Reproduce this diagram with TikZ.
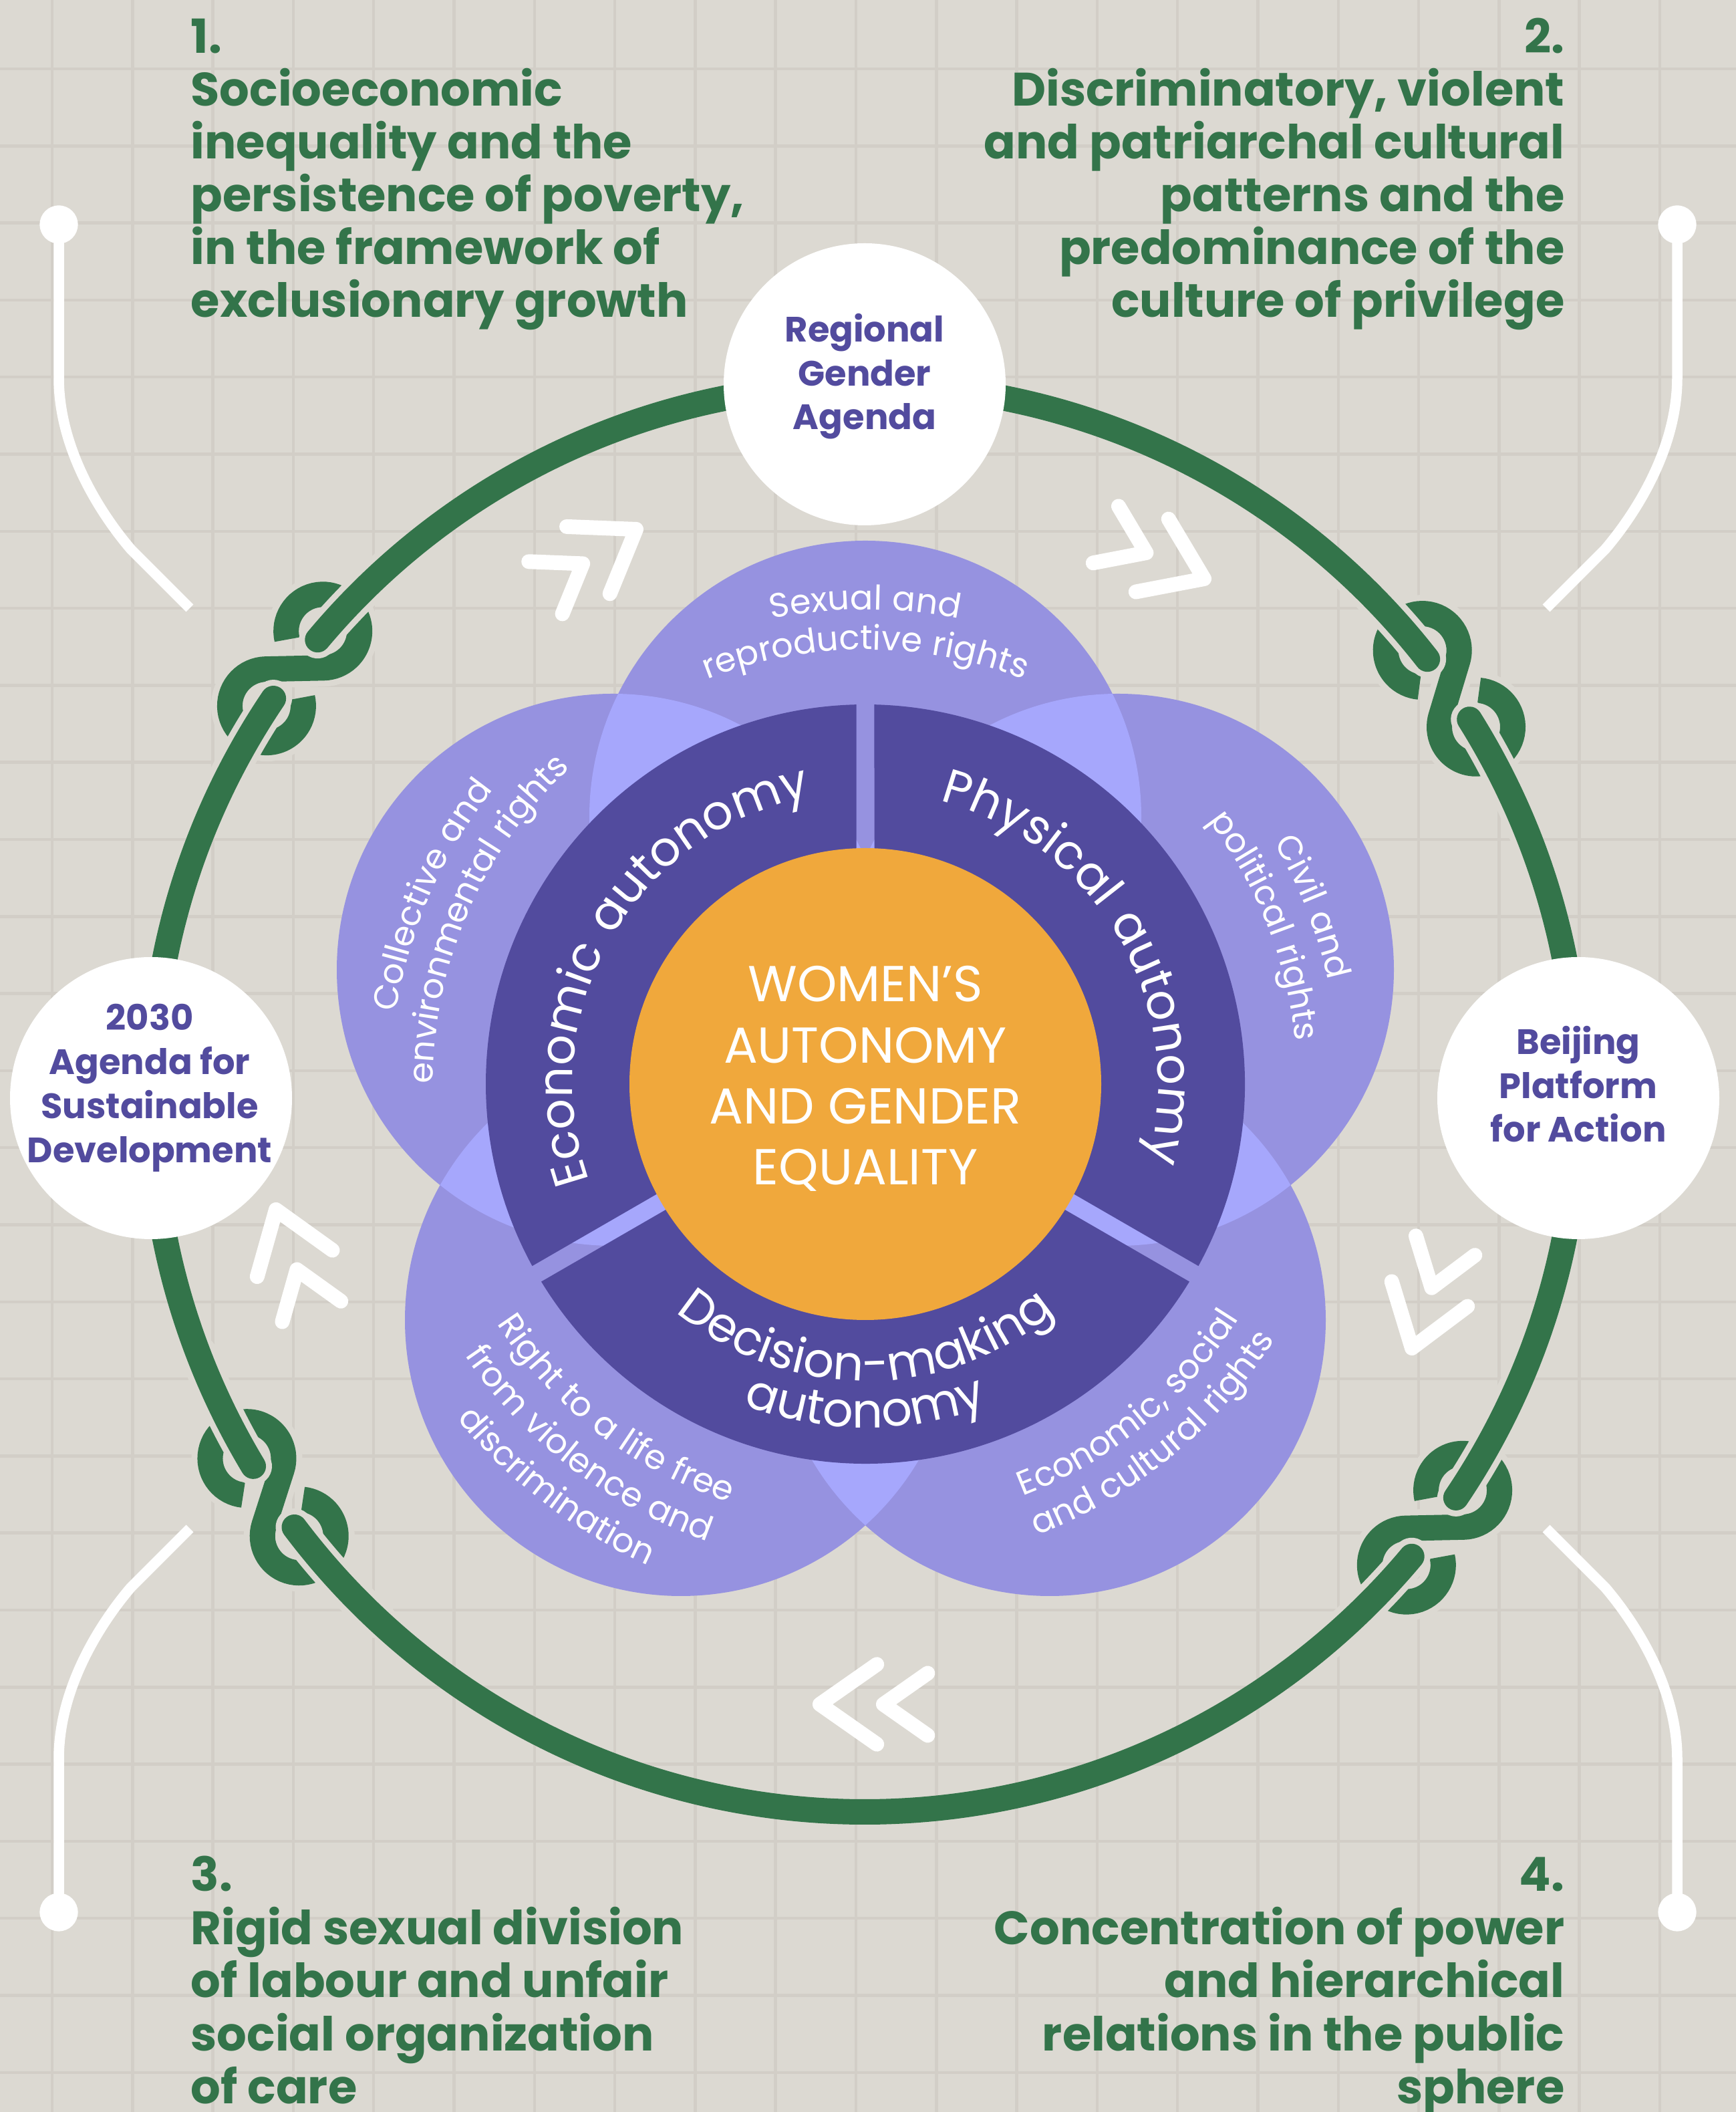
\documentclass[tikz,border=0pt]{standalone}
\usepackage{fontspec}
\setmainfont{Poppins}
\newfontfamily\ringfam{Poppins}[LetterSpace=7]
\newfontfamily\petalfam{Poppins}[LetterSpace=3]
\usetikzlibrary{decorations.text}

\definecolor{bggray}{HTML}{DCD9D2}
\definecolor{gridgray}{HTML}{D2CEC7}
\definecolor{ringgreen}{HTML}{33744A}
\definecolor{petalblue}{HTML}{9692E0}
\definecolor{petallight}{HTML}{A6A7FC}
\definecolor{autopurple}{HTML}{524B9E}
\definecolor{coreorange}{HTML}{F0A83C}

\newcommand\ringtxt{\ringfam\fontsize{20.5}{24}\selectfont\color{white}}
\newcommand\petaltxt{\petalfam\fontsize{14.5}{17}\selectfont\color{white}}

\tikzset{
  gridline/.style={draw=gridgray, line width=0.045cm},
  bracket/.style={draw=white, line width=0.155cm},
  ringline/.style={draw=ringgreen, line width=0.38cm, line cap=round},
  ringhalo/.style={draw=bggray, line width=0.56cm, line cap=round},
  knothalo/.style={draw=bggray, line width=0.56cm},
  knotline/.style={draw=ringgreen, line width=0.38cm},
  chev/.style={draw=white, line width=0.22cm, line cap=round, line join=round},
  hub/.style={circle, fill=white, minimum size=4.22cm, inner sep=0pt},
  hubtext/.style={anchor=base, inner sep=0pt, text=autopurple, font=\bfseries\fontsize{15}{18}\selectfont},
  cause/.style={inner sep=0pt, text=ringgreen, font=\bfseries\fontsize{20}{22}\selectfont},
  coretext/.style={anchor=base, inner sep=0pt, text=white, font=\fontsize{21.5}{25}\selectfont},
}

\begin{document}
\begin{tikzpicture}
  \useasboundingbox (0,0) rectangle (25.98,31.6);
  \fill[bggray] (0,0) rectangle (25.98,31.6);

  % paper grid
  \foreach \i in {0,...,20}
    \draw[gridline] ({0.78+1.203*\i},0) -- ({0.78+1.203*\i},31.6);
  \foreach \j in {0,...,26}
    \draw[gridline] (0,{30.57-1.153*\j}) -- (25.98,{30.57-1.153*\j});

  % brackets to the four causes
  \foreach \xs/\xo/\ys/\yo in {1/0/1/0, -1/25.98/1/0, 1/0/-1/31.23, -1/25.98/-1/31.23} {
    \begin{scope}[shift={(\xo,\yo)}, xscale=\xs, yscale=\ys]
      \draw[bracket] (0.88,28.24) -- (0.88,25.95)
        .. controls (0.88,24.8) and (1.60,23.8) .. (1.96,23.38) -- (2.84,22.50);
      \fill[white] (0.88,28.24) circle (0.286);
    \end{scope}
  }

  % green ring with knots
  \begin{scope}[shift={(12.94,15.17)}]
    \foreach \k in {35,143,214,323} {
      \begin{scope}[shift={(\k:10.68)}, rotate=\k+90]
        \draw[knothalo] (-0.2774,-0.3521) arc[start angle=320.2, end angle=38.2, radius=0.55]
          -- (0.2678,-0.3401) arc[start angle=218.2, end angle=500.2, radius=0.55];
        \draw[knotline] (-0.2774,-0.3521) arc[start angle=320.2, end angle=38.2, radius=0.55]
          -- (0.2678,-0.3401) arc[start angle=218.2, end angle=500.2, radius=0.55];
      \end{scope}
      \draw[ringhalo] ({\k-12.95}:10.68) arc[start angle={\k-12.95}, end angle={\k-2.95}, radius=10.68];
      \draw[ringhalo] ({\k+2.95}:10.68) arc[start angle={\k+2.95}, end angle={\k+12.95}, radius=10.68];
    }
    \foreach \a/\b in {37.95/140.05, 145.95/211.05, 216.95/320.05, 325.95/392.05}
      \draw[ringline] (\a:10.68) arc[start angle=\a, end angle=\b, radius=10.68];
    \node[hub] (hubleft) at (180:10.68) {};
    \node[hub] (hubtop) at (90:10.68) {};
    \node[hub] (hubright) at (0:10.68) {};
  \end{scope}

  % chevrons along the ring
  \foreach \x/\y/\a in {9.52/23.68/32.8, 18.02/22.94/-24.2, 21.13/11.43/251.9, 12.27/6.10/180, 4.13/13.50/109.3} {
    \draw[chev, shift={(\x,\y)}, rotate=\a] (-0.852,0.597) -- (0,0) -- (-0.852,-0.597);
    \draw[chev, shift={(\x,\y)}, rotate=\a] (-1.613,0.465) -- (-0.95,0) -- (-1.613,-0.465);
  }

  % agendas
  \foreach \txt [count=\i] in {2030, Agenda for, Sustainable, Development}
    \node[hubtext] (left-\i) at (2.24,{16.18-0.657*(\i-1)}) {\txt};
  \foreach \txt [count=\i] in {Regional, Gender, Agenda}
    \node[hubtext] (top-\i) at (12.94,{26.48-0.655*(\i-1)}) {\txt};
  \foreach \txt [count=\i] in {Beijing, Platform, for Action}
    \node[hubtext] (right-\i) at (23.62,{15.82-0.655*(\i-1)}) {\txt};

  % flower of rights and autonomies
  \begin{scope}[shift={(12.95,15.38)}]
    \foreach \px/\py in {0/4, -3.78/1.71, 3.78/1.71, -2.76/-3.53, 2.76/-3.53}
      \fill[petalblue] (\px,\py) circle (4.13);
    \foreach \ax/\ay/\bx/\by in {0/4/-3.78/1.71, 0/4/3.78/1.71, -3.78/1.71/-2.76/-3.53,
        3.78/1.71/2.76/-3.53, -2.76/-3.53/2.76/-3.53} {
      \begin{scope}
        \clip (\ax,\ay) circle (4.13);
        \fill[petallight] (\bx,\by) circle (4.13);
      \end{scope}
    }
    \foreach \a/\b in {-30/90, 90/210, 210/330}
      \fill[autopurple] ({\a+1.362}:5.68) arc[start angle={\a+1.362}, end angle={\b-1.362}, radius=5.68]
        -- ({\b-2.579}:3.0) -- ({\a+2.579}:3.0) -- cycle;
    \node[circle, fill=coreorange, minimum size=7.06cm, inner sep=0pt] (core) at (0,0) {};

    % autonomies
    \path[decorate, decoration={text along path, text align=center, text={|\ringtxt|Economic autonomy}}]
      (210:4.38) arc[start angle=210, end angle=90, radius=4.38];
    \path[decorate, decoration={text along path, text align=center, text={|\ringtxt|Physical autonomy}}]
      (90:4.38) arc[start angle=90, end angle=-30, radius=4.38];
    \path[decorate, decoration={text along path, text align=center, text={|\ringtxt|Decision-making}}]
      (210:4.44) arc[start angle=210, end angle=330, radius=4.44];
    \path[decorate, decoration={text along path, text align=center, text={|\ringtxt|autonomy}}]
      (210:5.14) arc[start angle=210, end angle=330, radius=5.14];

    % rights, clockwise
    \foreach \c/\r/\txt in {90/7.10/{Sexual and}, 90/6.50/{reproductive rights},
        156.5/7.10/{Collective and}, 156.5/6.47/{environmental rights},
        21.6/7.10/{Civil and}, 21.6/6.47/{political rights}}
      \path[decorate, decoration={text along path, text align=center, text={|\petaltxt|\txt}}]
        ({\c+40}:\r) arc[start angle={\c+40}, end angle={\c-40}, radius=\r];
    % rights, counterclockwise
    \foreach \c/\r/\txt in {232.5/6.58/{Right to a life free}, 232.5/7.24/{from violence and},
        232.5/7.90/{discrimination},
        309.4/6.60/{Economic, social}, 309.4/7.22/{and cultural rights}}
      \path[decorate, decoration={text along path, text align=center, text={|\petaltxt|\txt}}]
        ({\c-40}:\r) arc[start angle={\c-40}, end angle={\c+40}, radius=\r];
  \end{scope}

  \foreach \txt [count=\i] in {WOMEN’S, AUTONOMY, AND GENDER, EQUALITY}
    \node[coretext] (core-\i) at (12.95,{16.61-0.913*(\i-1)}) {\txt};

  % the four causes
  \foreach \txt [count=\i] in {1., Socioeconomic, inequality and the, {persistence of poverty,},
      in the framework of, exclusionary growth}
    \node[cause, anchor=base west] (causeA-\i) at (2.85,{30.80-0.79*(\i-1)}) {\txt};
  \foreach \txt [count=\i] in {2., {Discriminatory, violent}, and patriarchal cultural,
      patterns and the, predominance of the, culture of privilege}
    \node[cause, anchor=base east] (causeB-\i) at (23.42,{30.80-0.79*(\i-1)}) {\txt};
  \foreach \txt [count=\i] in {3., Rigid sexual division, of labour and unfair,
      social organization, of care}
    \node[cause, anchor=base west] (causeC-\i) at (2.85,{3.30-0.795*(\i-1)}) {\txt};
  \foreach \txt [count=\i] in {4., Concentration of power, and hierarchical,
      relations in the public, sphere}
    \node[cause, anchor=base east] (causeD-\i) at (23.42,{3.30-0.795*(\i-1)}) {\txt};
\end{tikzpicture}
\end{document}
